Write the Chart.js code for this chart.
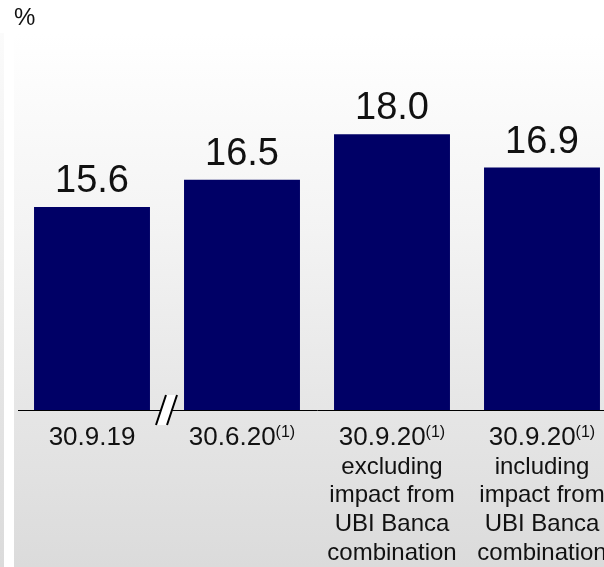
<!DOCTYPE html>
<html>
<head>
<meta charset="utf-8">
<title>Ratio</title>
<script src="https://cdn.jsdelivr.net/npm/chart.js@4/dist/chart.umd.min.js"></script>
<style>
  html, body { margin: 0; padding: 0; width: 604px; height: 567px; overflow: hidden; background: #ffffff; }
  #panel { position: absolute; left: 14px; top: 33px; width: 590px; height: 534px;
           background: linear-gradient(to bottom, #ffffff 0%, #f4f4f4 35%, #e6e6e6 70%, #dbdbdb 100%); }
  #strip { position: absolute; left: 0; top: 33px; width: 4px; height: 534px;
           background: linear-gradient(to bottom, #fbfbfb 0%, #e6e6e6 60%, #dbdbdb 100%); }
  #wrap { position: absolute; left: 0; top: 0; width: 640px; height: 567px; }
</style>
</head>
<body>
<div id="strip"></div>
<div id="panel"></div>
<div id="wrap"><canvas id="chart" width="640" height="567"></canvas></div>
<script>
// Ratio by reporting date (%)
const categories = ['30.9.19', '30.6.20', '30.9.20', '30.9.20'];
const footnoteMarks = ['', '(1)', '(1)', '(1)'];
const extraLines = [
  [],
  [],
  ['excluding', 'impact from', 'UBI Banca', 'combination'],
  ['including', 'impact from', 'UBI Banca', 'combination']
];
const values = [15.6, 16.5, 18.0, 16.9];

const FONT = '"Liberation Sans", Arial, Helvetica, sans-serif';

// Value labels, category labels with footnote marks, axis line and the axis break
const annotate = {
  id: 'annotate',
  afterDatasetsDraw(chart) {
    const ctx = chart.ctx;
    const xs = chart.scales.x;
    const area = chart.chartArea;
    const meta = chart.getDatasetMeta(0);
    ctx.save();
    ctx.fillStyle = '#111111';

    // unit label
    ctx.font = '24px ' + FONT;
    ctx.textAlign = 'left';
    ctx.textBaseline = 'alphabetic';
    ctx.fillText('%', 14, 25);

    // values above bars
    ctx.font = '38px ' + FONT;
    ctx.textAlign = 'center';
    meta.data.forEach((bar, i) => {
      ctx.fillText(values[i].toFixed(1), bar.x, bar.y - 15);
    });

    // axis line
    const axisY = area.bottom;
    ctx.strokeStyle = '#000000';
    ctx.lineWidth = 1;
    ctx.beginPath();
    ctx.moveTo(18, axisY + 0.5);
    ctx.lineTo(area.right, axisY + 0.5);
    ctx.stroke();

    // axis break between the first and second category
    const bx = (xs.getPixelForValue(0) + xs.getPixelForValue(1)) / 2;
    ctx.beginPath();
    ctx.moveTo(bx - 11, axisY + 15);
    ctx.lineTo(bx - 1, axisY - 15);
    ctx.lineTo(bx + 10, axisY - 15);
    ctx.lineTo(bx, axisY + 15);
    ctx.closePath();
    ctx.fillStyle = '#ffffff';
    ctx.fill();
    ctx.strokeStyle = '#000000';
    ctx.lineWidth = 2;
    ctx.beginPath();
    ctx.moveTo(bx - 11, axisY + 15);
    ctx.lineTo(bx - 1, axisY - 15);
    ctx.moveTo(bx, axisY + 15);
    ctx.lineTo(bx + 10, axisY - 15);
    ctx.stroke();

    // category labels
    ctx.fillStyle = '#111111';
    ctx.textAlign = 'left';
    const base = axisY + 35;
    const lineGap = 28.7;
    categories.forEach((label, i) => {
      const cx = xs.getPixelForValue(i);
      ctx.font = '26px ' + FONT;
      const wMain = ctx.measureText(label).width;
      ctx.font = '16px ' + FONT;
      const wSup = footnoteMarks[i] ? ctx.measureText(footnoteMarks[i]).width : 0;
      const left = cx - (wMain + wSup) / 2;
      ctx.font = '26px ' + FONT;
      ctx.fillText(label, left, base);
      if (footnoteMarks[i]) {
        ctx.font = '16px ' + FONT;
        ctx.fillText(footnoteMarks[i], left + wMain, base - 8);
      }
      ctx.font = '24px ' + FONT;
      ctx.textAlign = 'center';
      extraLines[i].forEach((t, k) => {
        ctx.fillText(t, cx, base + lineGap * (k + 1));
      });
      ctx.textAlign = 'left';
    });
    ctx.restore();
  }
};

new Chart(document.getElementById('chart'), {
  type: 'bar',
  data: {
    labels: categories,
    datasets: [{
      data: values,
      backgroundColor: '#000066',
      borderWidth: 0,
      categoryPercentage: 1.0,
      barPercentage: 0.773
    }]
  },
  options: {
    responsive: false,
    animation: false,
    devicePixelRatio: 1,
    layout: { padding: { left: 17, right: 23, top: 40, bottom: 157 } },
    plugins: { legend: { display: false }, tooltip: { enabled: false } },
    scales: {
      x: { display: false },
      y: { display: false, min: 8.92, max: 21.1 }
    }
  },
  plugins: [annotate]
});
</script>
</body>
</html>
